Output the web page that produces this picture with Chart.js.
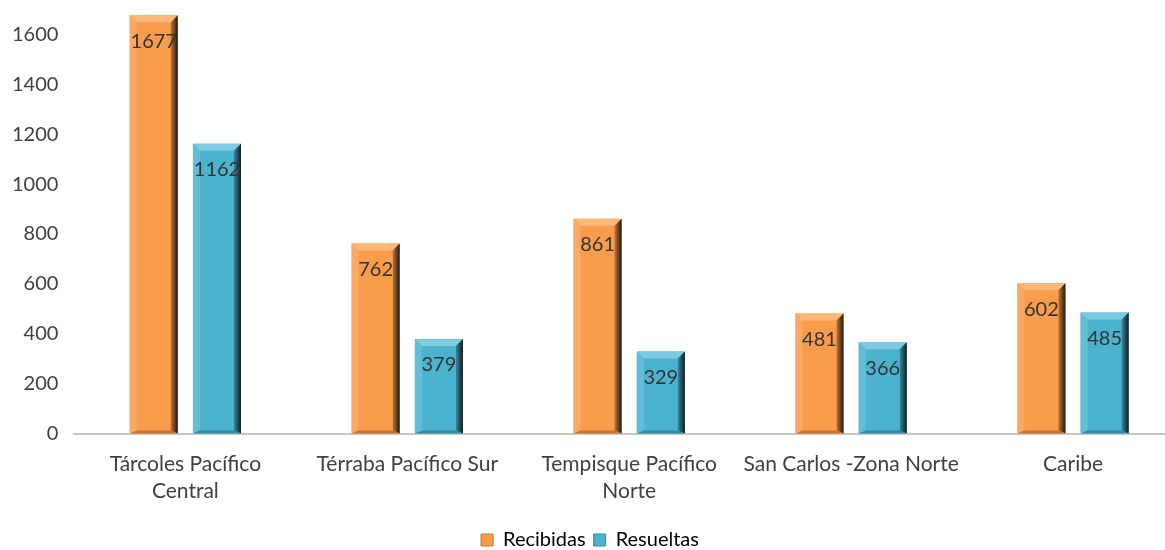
<!DOCTYPE html>
<html lang="es">
<head>
<meta charset="UTF-8">
<title>Recibidas y Resueltas</title>
<script src="https://cdn.jsdelivr.net/npm/chart.js@4.4.0/dist/chart.umd.min.js"></script>
<style>
  html, body { margin: 0; padding: 0; background: #fff; overflow: hidden; }
  #wrap { position: relative; left: -4px; top: -16px; width: 1218px; height: 581px; }
</style>
</head>
<body>
<div id="wrap"><canvas id="chart"></canvas></div>
<script>
// data
const regiones = [
  ["Tárcoles Pacífico", "Central"],
  "Térraba Pacífico Sur",
  ["Tempisque Pacífico", "Norte"],
  "San Carlos -Zona Norte",
  "Caribe"
];
const recibidas = [1677, 762, 861, 481, 602];
const resueltas = [1162, 379, 329, 366, 485];
const yTicks = [0, 200, 400, 600, 800, 1000, 1200, 1400, 1600];

const FONT = "Lato, 'Open Sans', sans-serif";

// bevel look for the bars (top/left light, right dark edge)
const bevelPlugin = {
  id: "bevel",
  afterDatasetsDraw(chart) {
    const ctx = chart.ctx;
    chart.data.datasets.forEach((ds, i) => {
      const meta = chart.getDatasetMeta(i);
      meta.data.forEach((bar) => {
        const w = bar.width;
        const l = bar.x - w / 2, r = bar.x + w / 2;
        const t = bar.y, btm = bar.base;
        const b = 7;
        ctx.save();
        // top face
        ctx.beginPath();
        ctx.moveTo(l, t); ctx.lineTo(r, t); ctx.lineTo(r - b, t + b); ctx.lineTo(l + b, t + b); ctx.closePath();
        ctx.fillStyle = ds.bevelTop;
        ctx.fill();
        // left face
        ctx.beginPath();
        ctx.moveTo(l, t); ctx.lineTo(l + b, t + b); ctx.lineTo(l + b, btm - 3); ctx.lineTo(l, btm); ctx.closePath();
        ctx.fillStyle = ds.bevelLeft;
        ctx.fill();
        // right face, fading to near black
        const g = ctx.createLinearGradient(r - b, 0, r, 0);
        g.addColorStop(0, ds.bevelRight);
        g.addColorStop(1, "#1a1a1a");
        ctx.beginPath();
        ctx.moveTo(r, t); ctx.lineTo(r - b, t + b); ctx.lineTo(r - b, btm - 3); ctx.lineTo(r, btm); ctx.closePath();
        ctx.fillStyle = g;
        ctx.fill();
        // bottom face
        ctx.beginPath();
        ctx.moveTo(l, btm); ctx.lineTo(l + b, btm - 3); ctx.lineTo(r - b, btm - 3); ctx.lineTo(r, btm); ctx.closePath();
        ctx.fillStyle = ds.bevelRight;
        ctx.fill();
        ctx.restore();
      });
    });
  }
};

// value labels inside the top of each bar
const valueLabels = {
  id: "valueLabels",
  afterDatasetsDraw(chart) {
    const ctx = chart.ctx;
    ctx.save();
    ctx.font = "20px " + FONT;
    ctx.fillStyle = "#333333";
    ctx.textAlign = "center";
    ctx.textBaseline = "middle";
    chart.data.datasets.forEach((ds, i) => {
      chart.getDatasetMeta(i).data.forEach((bar, j) => {
        ctx.fillText(ds.data[j], bar.x, bar.y + 26);
      });
    });
    ctx.restore();
  }
};

new Chart(document.getElementById("chart"), {
  type: "bar",
  data: {
    labels: regiones,
    datasets: [
      {
        label: "Recibidas",
        data: recibidas,
        backgroundColor: "#F99D4C",
        bevelTop: "#FBB878",
        bevelLeft: "#FAAA63",
        bevelRight: "#C8722E",
        barPercentage: 0.76,
        categoryPercentage: 0.57
      },
      {
        label: "Resueltas",
        data: resueltas,
        backgroundColor: "#4CB3CE",
        bevelTop: "#7DCBE0",
        bevelLeft: "#62BED6",
        bevelRight: "#2F8AA3",
        barPercentage: 0.76,
        categoryPercentage: 0.57
      }
    ]
  },
  options: {
    responsive: true,
    maintainAspectRatio: false,
    animation: false,
    layout: { padding: { top: 0, right: 30, left: 0, bottom: 5 } },
    plugins: {
      legend: {
        position: "bottom",
        labels: {
          boxWidth: 12,
          boxHeight: 12,
          padding: 8,
          color: "#404040",
          font: { size: 20, family: FONT },
          generateLabels(chart) {
            return chart.data.datasets.map((ds, i) => ({
              text: ds.label,
              fillStyle: ds.backgroundColor,
              strokeStyle: ds.bevelRight,
              lineWidth: 1,
              datasetIndex: i
            }));
          }
        }
      },
      tooltip: { enabled: false }
    },
    scales: {
      x: {
        grid: { display: false, drawTicks: false },
        border: { display: true, color: "#c8c8c8", width: 2 },
        ticks: {
          color: "#404040",
          font: { size: 21, family: FONT, lineHeight: 1.25 },
          padding: 18,
          maxRotation: 0,
          autoSkip: false
        }
      },
      y: {
        min: 0,
        max: 1690,
        grid: { display: false, drawTicks: false },
        border: { display: false },
        afterBuildTicks(axis) {
          axis.ticks = yTicks.map((v) => ({ value: v }));
        },
        ticks: {
          color: "#404040",
          font: { size: 20, family: FONT },
          padding: 16,
          callback: (v) => String(v)
        }
      }
    }
  },
  plugins: [bevelPlugin, valueLabels]
});
</script>
</body>
</html>
